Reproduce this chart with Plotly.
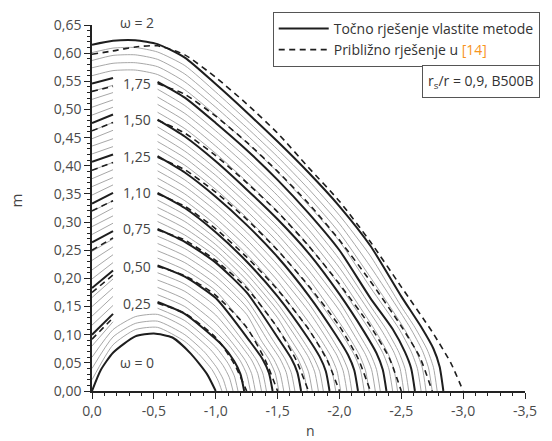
import plotly.graph_objects as go

# ---------------- data ----------------
stations = [0.0, -0.17, -0.35, -0.53, -0.75, -1.0, -1.25, -1.5, -1.75, -2.0, -2.25, -2.5]

omega = [0.05, 0.10, 0.15, 0.20, 0.25, 0.30, 0.35, 0.40, 0.45, 0.50,
         0.55, 0.60, 0.65, 0.70, 0.75, 0.80, 0.85, 0.90, 0.95, 1.00,
         1.05, 1.10, 1.15, 1.20, 1.25, 1.30, 1.35, 1.40, 1.45, 1.50,
         1.55, 1.60, 1.65, 1.70, 1.75, 1.80, 1.85, 1.90, 1.95, 2.00]

m_at_stations = [
    [0.020, 0.082, 0.109, 0.113, 0.088],
    [0.040, 0.096, 0.120, 0.124, 0.100],
    [0.060, 0.109, 0.132, 0.136, 0.113],
    [0.080, 0.123, 0.143, 0.147, 0.125],
    [0.100, 0.137, 0.155, 0.158, 0.137],
    [0.117, 0.152, 0.169, 0.171, 0.150, 0.105],
    [0.133, 0.168, 0.183, 0.184, 0.163, 0.120],
    [0.150, 0.183, 0.197, 0.197, 0.177, 0.135],
    [0.166, 0.199, 0.211, 0.210, 0.190, 0.150],
    [0.183, 0.214, 0.225, 0.223, 0.203, 0.165],
    [0.199, 0.228, 0.238, 0.236, 0.215, 0.178],
    [0.215, 0.242, 0.252, 0.249, 0.228, 0.190, 0.136],
    [0.232, 0.256, 0.265, 0.262, 0.240, 0.203, 0.149],
    [0.248, 0.270, 0.279, 0.275, 0.253, 0.215, 0.162],
    [0.264, 0.284, 0.292, 0.288, 0.265, 0.228, 0.175],
    [0.278, 0.298, 0.305, 0.301, 0.277, 0.239, 0.186],
    [0.292, 0.311, 0.318, 0.314, 0.289, 0.250, 0.197, 0.130],
    [0.305, 0.325, 0.332, 0.326, 0.301, 0.260, 0.208, 0.143],
    [0.319, 0.338, 0.345, 0.339, 0.313, 0.271, 0.219, 0.155],
    [0.333, 0.352, 0.358, 0.352, 0.325, 0.282, 0.230, 0.168],
    [0.348, 0.366, 0.371, 0.365, 0.338, 0.295, 0.243, 0.182],
    [0.363, 0.379, 0.384, 0.378, 0.350, 0.307, 0.256, 0.196],
    [0.377, 0.393, 0.398, 0.391, 0.363, 0.320, 0.269, 0.210, 0.142],
    [0.392, 0.406, 0.411, 0.404, 0.375, 0.332, 0.282, 0.224, 0.156],
    [0.407, 0.420, 0.424, 0.417, 0.388, 0.345, 0.295, 0.238, 0.170],
    [0.421, 0.434, 0.438, 0.430, 0.401, 0.358, 0.308, 0.251, 0.185],
    [0.435, 0.448, 0.451, 0.443, 0.414, 0.370, 0.320, 0.265, 0.200],
    [0.448, 0.463, 0.465, 0.456, 0.426, 0.383, 0.333, 0.278, 0.215, 0.143],
    [0.462, 0.477, 0.478, 0.469, 0.439, 0.395, 0.345, 0.292, 0.230, 0.158],
    [0.476, 0.491, 0.492, 0.482, 0.452, 0.408, 0.358, 0.305, 0.245, 0.172],
    [0.490, 0.504, 0.505, 0.495, 0.466, 0.422, 0.372, 0.319, 0.259, 0.188],
    [0.504, 0.517, 0.518, 0.509, 0.480, 0.435, 0.386, 0.333, 0.273, 0.203],
    [0.518, 0.530, 0.531, 0.522, 0.493, 0.449, 0.400, 0.347, 0.287, 0.219],
    [0.532, 0.543, 0.544, 0.536, 0.507, 0.462, 0.414, 0.361, 0.302, 0.234, 0.151],
    [0.546, 0.556, 0.557, 0.549, 0.521, 0.476, 0.428, 0.375, 0.316, 0.250, 0.165],
    [0.560, 0.569, 0.570, 0.562, 0.535, 0.490, 0.441, 0.389, 0.330, 0.266, 0.184],
    [0.574, 0.582, 0.583, 0.576, 0.549, 0.504, 0.455, 0.402, 0.345, 0.281, 0.202],
    [0.587, 0.596, 0.597, 0.589, 0.563, 0.517, 0.468, 0.416, 0.359, 0.297, 0.221],
    [0.601, 0.609, 0.610, 0.602, 0.578, 0.531, 0.481, 0.429, 0.374, 0.312, 0.240, 0.150],
    [0.615, 0.622, 0.623, 0.616, 0.592, 0.545, 0.495, 0.443, 0.388, 0.328, 0.258, 0.168],
]

tail_n = [
    [-0.87, -0.97, -1.02, -1.05], [-0.91, -1.01, -1.06, -1.09], [-0.96, -1.06, -1.11, -1.14],
    [-1.00, -1.10, -1.15, -1.18], [-1.05, -1.15, -1.20, -1.23], [-1.10, -1.20, -1.25, -1.28],
    [-1.14, -1.24, -1.29, -1.32], [-1.19, -1.29, -1.34, -1.37], [-1.23, -1.33, -1.38, -1.41],
    [-1.28, -1.38, -1.43, -1.46], [-1.33, -1.43, -1.48, -1.51], [-1.37, -1.47, -1.52, -1.55],
    [-1.42, -1.52, -1.57, -1.60], [-1.46, -1.56, -1.61, -1.64], [-1.51, -1.61, -1.66, -1.69],
    [-1.56, -1.66, -1.71, -1.74], [-1.60, -1.70, -1.75, -1.78], [-1.65, -1.75, -1.80, -1.83],
    [-1.69, -1.79, -1.84, -1.87], [-1.74, -1.84, -1.89, -1.92], [-1.79, -1.89, -1.94, -1.97],
    [-1.83, -1.93, -1.98, -2.01], [-1.88, -1.98, -2.03, -2.06], [-1.92, -2.02, -2.07, -2.10],
    [-1.97, -2.07, -2.12, -2.15], [-2.02, -2.12, -2.17, -2.20], [-2.06, -2.16, -2.21, -2.24],
    [-2.11, -2.21, -2.26, -2.29], [-2.15, -2.25, -2.30, -2.33], [-2.20, -2.30, -2.35, -2.38],
    [-2.25, -2.35, -2.40, -2.43], [-2.29, -2.39, -2.44, -2.47], [-2.34, -2.44, -2.49, -2.52],
    [-2.38, -2.48, -2.53, -2.56], [-2.43, -2.53, -2.58, -2.61], [-2.48, -2.58, -2.63, -2.66],
    [-2.52, -2.62, -2.67, -2.70], [-2.57, -2.67, -2.72, -2.75], [-2.61, -2.71, -2.76, -2.79],
    [-2.66, -2.76, -2.81, -2.84],
]

tail_m = [
    [0.064, 0.038, 0.018, 0], [0.069, 0.041, 0.021, 0], [0.073, 0.045, 0.024, 0],
    [0.078, 0.049, 0.027, 0], [0.082, 0.053, 0.030, 0], [0.083, 0.053, 0.030, 0],
    [0.084, 0.054, 0.031, 0], [0.085, 0.055, 0.031, 0], [0.086, 0.055, 0.032, 0],
    [0.087, 0.056, 0.032, 0], [0.088, 0.056, 0.032, 0], [0.089, 0.056, 0.032, 0],
    [0.090, 0.057, 0.033, 0], [0.091, 0.057, 0.033, 0], [0.092, 0.058, 0.033, 0],
    [0.093, 0.059, 0.033, 0], [0.094, 0.059, 0.034, 0], [0.095, 0.060, 0.034, 0],
    [0.095, 0.060, 0.035, 0], [0.096, 0.061, 0.035, 0], [0.097, 0.062, 0.035, 0],
    [0.098, 0.062, 0.036, 0], [0.099, 0.063, 0.036, 0], [0.100, 0.063, 0.037, 0],
    [0.100, 0.064, 0.037, 0], [0.101, 0.064, 0.037, 0], [0.102, 0.065, 0.037, 0],
    [0.103, 0.065, 0.038, 0], [0.104, 0.066, 0.038, 0], [0.105, 0.067, 0.038, 0],
    [0.106, 0.068, 0.039, 0], [0.107, 0.068, 0.039, 0], [0.108, 0.069, 0.040, 0],
    [0.109, 0.069, 0.040, 0], [0.110, 0.069, 0.040, 0], [0.111, 0.070, 0.040, 0],
    [0.112, 0.071, 0.041, 0], [0.113, 0.072, 0.041, 0], [0.113, 0.073, 0.042, 0],
    [0.114, 0.075, 0.043, 0],
]

# omega = 0 curve (plain concrete)
n_w0 = [0.0, -0.07, -0.17, -0.35, -0.50, -0.65, -0.80, -0.93, -1.00]
m_w0 = [0.0, 0.037, 0.068, 0.097, 0.102, 0.095, 0.066, 0.030, 0.0]

# approximate solution of [14] (dashed)
dash_omega = [0.25, 0.50, 0.75, 1.00, 1.25, 1.50, 1.75, 2.00]
dash_m_at_stations = [
    [0.092, 0.130, 0.150, 0.156, 0.138, 0.095],
    [0.175, 0.206, 0.219, 0.221, 0.205, 0.170, 0.113],
    [0.250, 0.272, 0.284, 0.286, 0.268, 0.232, 0.183, 0.112],
    [0.320, 0.338, 0.348, 0.350, 0.328, 0.288, 0.238, 0.180, 0.110],
    [0.392, 0.406, 0.414, 0.415, 0.393, 0.353, 0.305, 0.250, 0.187, 0.115],
    [0.462, 0.477, 0.482, 0.481, 0.458, 0.418, 0.370, 0.318, 0.258, 0.190, 0.115],
    [0.532, 0.541, 0.546, 0.546, 0.527, 0.488, 0.442, 0.390, 0.333, 0.268, 0.195, 0.115],
    [0.598, 0.604, 0.611, 0.613, 0.597, 0.557, 0.510, 0.458, 0.397, 0.337, 0.265, 0.185],
]
dash_tail_n = [[-1.15, -1.25], [-1.40, -1.50], [-1.65, -1.75], [-1.90, -2.00],
               [-2.15, -2.25], [-2.40, -2.50], [-2.65, -2.75], [-2.75, -2.90, -3.00]]
dash_tail_m = [[0.048, 0], [0.055, 0], [0.055, 0], [0.055, 0],
               [0.058, 0], [0.060, 0], [0.060, 0], [0.105, 0.050, 0]]

curve_labels = ["1,75", "1,50", "1,25", "1,10", "0,75", "0,50", "0,25"]
curve_label_m = [0.547, 0.482, 0.417, 0.352, 0.288, 0.221, 0.155]

x_tickvals = [0.0, -0.5, -1.0, -1.5, -2.0, -2.5, -3.0, -3.5]
x_ticktext = ["0,0", "-0,5", "-1,0", "-1,5", "-2,0", "-2,5", "-3,0", "-3,5"]
y_tickvals = [0.00, 0.05, 0.10, 0.15, 0.20, 0.25, 0.30, 0.35, 0.40, 0.45, 0.50, 0.55, 0.60, 0.65]
y_ticktext = ["0,00", "0,05", "0,10", "0,15", "0,20", "0,25", "0,30", "0,35",
              "0,40", "0,45", "0,50", "0,55", "0,60", "0,65"]

# ---------------- styling / helpers ----------------
FONT = "Open Sans"
GAP_LEFT, GAP_RIGHT = -0.17, -0.53
THICK = {0.25, 0.50, 0.75, 1.00, 1.25, 1.50, 1.75, 2.00}


def split_gap(ns, ms, broken):
    if not broken:
        return list(ns), list(ms)
    lx = [n for n in ns if n >= GAP_LEFT - 1e-9]
    ly = [m for n, m in zip(ns, ms) if n >= GAP_LEFT - 1e-9]
    rx = [n for n in ns if n <= GAP_RIGHT + 1e-9]
    ry = [m for n, m in zip(ns, ms) if n <= GAP_RIGHT + 1e-9]
    return lx + [None] + rx, ly + [None] + ry


fig = go.Figure()

solid_thin, solid_thick = [], []
for w, ms, tn, tm in zip(omega, m_at_stations, tail_n, tail_m):
    ns = stations[:len(ms)] + tn
    mm = ms + tm
    broken = 0.19 < w < 1.76
    x, y = split_gap(ns, mm, broken)
    if round(w, 2) in THICK:
        solid_thick.append((x, y))
    else:
        solid_thin.append((x, y))

for x, y in solid_thin:
    fig.add_trace(go.Scatter(x=x, y=y, mode="lines", showlegend=False, hoverinfo="skip",
                             line=dict(color="#979797", width=0.85, shape="spline", smoothing=0.6)))

fig.add_trace(go.Scatter(x=n_w0, y=m_w0, mode="lines", showlegend=False, hoverinfo="skip",
                         line=dict(color="#1e1e1e", width=2.0, shape="spline", smoothing=0.6)))

for i, (x, y) in enumerate(solid_thick):
    fig.add_trace(go.Scatter(x=x, y=y, mode="lines", hoverinfo="skip",
                             name="Točno rješenje vlastite metode",
                             legendgroup="exact", showlegend=(i == 0),
                             line=dict(color="#1e1e1e", width=2.0, shape="spline", smoothing=0.6)))

for i, (w, ms, tn, tm) in enumerate(zip(dash_omega, dash_m_at_stations, dash_tail_n, dash_tail_m)):
    ns = stations[:len(ms)] + tn
    mm = ms + tm
    x, y = split_gap(ns, mm, w < 1.9)
    fig.add_trace(go.Scatter(x=x, y=y, mode="lines", hoverinfo="skip",
                             name='Približno rješenje u <span style="color:#F7941D">[14]</span>',
                             legendgroup="approx", showlegend=(i == 0),
                             line=dict(color="#1e1e1e", width=1.6, dash="6px,4.5px",
                                       shape="spline", smoothing=0.6)))

lab_font = dict(family=FONT, size=14, color="#444444")
annotations = []
for t, m in zip(curve_labels, curve_label_m):
    annotations.append(dict(x=-0.365, y=m, xref="x", yref="y", text=t, showarrow=False,
                            xanchor="center", yanchor="middle", font=lab_font))
annotations.append(dict(x=0.103, y=1.008, xref="paper", yref="paper", text="ω = 2",
                        showarrow=False, xanchor="center", yanchor="middle", font=lab_font))
annotations.append(dict(x=-0.365, y=0.051, xref="x", yref="y", text="ω = 0", showarrow=False,
                        xanchor="center", yanchor="middle", font=lab_font))
annotations.append(dict(x=1.034, y=0.891, xref="paper", yref="paper",
                        text="r<sub>s</sub>/r = 0,9, B500B", showarrow=False,
                        xanchor="right", yanchor="top",
                        bordercolor="#555555", borderwidth=1, borderpad=5, bgcolor="white",
                        font=dict(family=FONT, size=14, color="#333333")))
annotations.append(dict(x=-0.176, y=0.52, xref="paper", yref="paper", text="m", showarrow=False,
                        xanchor="center", yanchor="middle", textangle=-90,
                        font=dict(family=FONT, size=15, color="#444444")))
annotations.append(dict(x=0.505, y=-0.1087, xref="paper", yref="paper", text="n", showarrow=False,
                        xanchor="center", yanchor="middle",
                        font=dict(family=FONT, size=14, color="#444444")))

axis_common = dict(showgrid=False, zeroline=False, showline=True, linecolor="#222222",
                   linewidth=1.5, ticks="outside", ticklen=6, tickwidth=1.3, tickcolor="#222222",
                   tickfont=dict(family=FONT, size=14, color="#4a4a4a"))

fig.update_layout(
    width=552, height=441,
    margin=dict(l=92, r=22, t=23, b=50),
    paper_bgcolor="white", plot_bgcolor="white",
    font=dict(family=FONT, size=14, color="#333333"),
    xaxis=dict(range=[0, -3.5], tickvals=x_tickvals, ticktext=x_ticktext,
               minor=dict(tickvals=[round(-0.1 * k, 1) for k in range(36)], ticklen=3,
                          tickwidth=1, tickcolor="#222222", ticks="outside"),
               **axis_common),
    yaxis=dict(range=[0, 0.65], tickvals=y_tickvals, ticktext=y_ticktext,
               minor=dict(tickvals=[round(0.01 * k, 2) for k in range(66)], ticklen=3,
                          tickwidth=1, tickcolor="#222222", ticks="outside"),
               **axis_common),
    legend=dict(x=1.034, y=1.036, xanchor="right", yanchor="top", bgcolor="white",
                bordercolor="#555555", borderwidth=1, itemwidth=50, tracegroupgap=0,
                font=dict(family=FONT, size=14, color="#333333")),
    annotations=annotations,
    showlegend=True,
)

fig.write_html("out.html")
